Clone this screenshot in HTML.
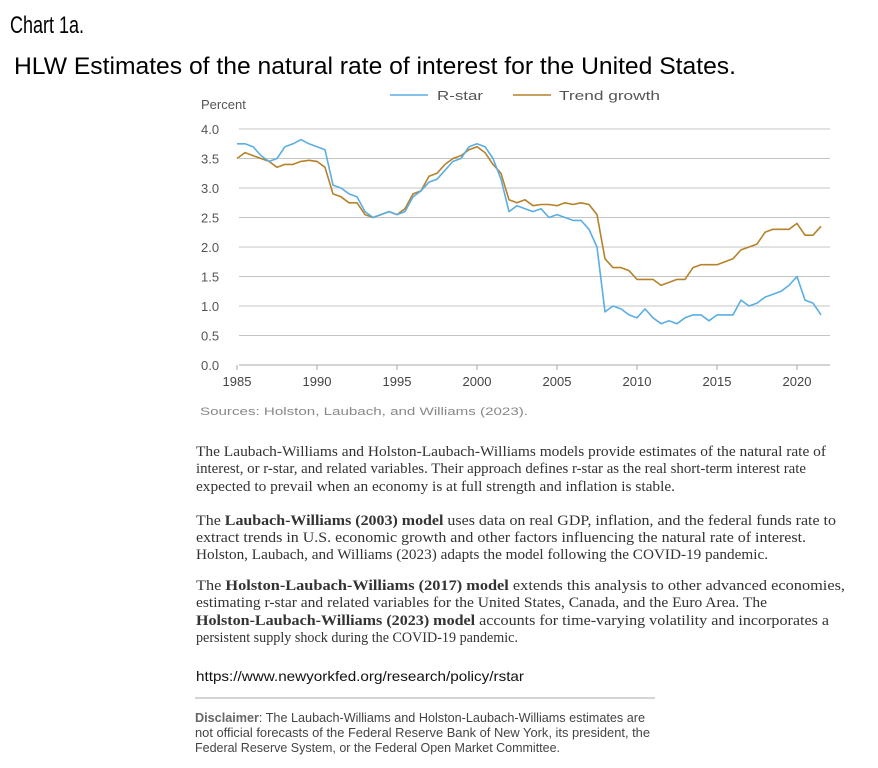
<!DOCTYPE html>
<html><head><meta charset="utf-8"><style>
html,body{margin:0;padding:0;background:#fff;}
svg{display:block;}
</style></head><body>
<svg id="chart" width="878" height="768" viewBox="0 0 878 768" xmlns="http://www.w3.org/2000/svg">
<text x="10" y="33" font-family="Liberation Sans, sans-serif" font-size="24" textLength="74" lengthAdjust="spacingAndGlyphs">Chart 1a.</text>
<text x="14" y="74" font-family="Liberation Sans, sans-serif" font-size="24" textLength="722" lengthAdjust="spacingAndGlyphs">HLW Estimates of the natural rate of interest for the United States.</text>

<g>
<line x1="390" y1="95" x2="428" y2="95" stroke="#5aaee3" stroke-width="1.5"/>
<text x="437" y="100" font-family="Liberation Sans, sans-serif" font-size="13" fill="#555" textLength="46" lengthAdjust="spacingAndGlyphs">R-star</text>
<line x1="513" y1="95" x2="551" y2="95" stroke="#b5822a" stroke-width="1.5"/>
<text x="559" y="100" font-family="Liberation Sans, sans-serif" font-size="13" fill="#555" textLength="101" lengthAdjust="spacingAndGlyphs">Trend growth</text>
</g>
<text x="201" y="109" font-family="Liberation Sans, sans-serif" font-size="13" fill="#555">Percent</text>
<g id="grid"></g>
<g id="series"></g>
<text x="200" y="415" font-family="Liberation Sans, sans-serif" font-size="11" fill="#888" textLength="328" lengthAdjust="spacingAndGlyphs">Sources: Holston, Laubach, and Williams (2023).</text>

<g font-family="Liberation Serif, serif" font-size="14.5" fill="#333">
<text x="196" y="456" textLength="630" lengthAdjust="spacingAndGlyphs">The Laubach-Williams and Holston-Laubach-Williams models provide estimates of the natural rate of</text>
<text x="196" y="473" textLength="610" lengthAdjust="spacingAndGlyphs">interest, or r-star, and related variables. Their approach defines r-star as the real short-term interest rate</text>
<text x="196" y="491" textLength="479" lengthAdjust="spacingAndGlyphs">expected to prevail when an economy is at full strength and inflation is stable.</text>
<text x="196" y="525" textLength="640" lengthAdjust="spacingAndGlyphs">The <tspan font-weight="bold">Laubach-Williams (2003) model</tspan> uses data on real GDP, inflation, and the federal funds rate to</text>
<text x="196" y="542" textLength="610" lengthAdjust="spacingAndGlyphs">extract trends in U.S. economic growth and other factors influencing the natural rate of interest.</text>
<text x="196" y="559" textLength="572" lengthAdjust="spacingAndGlyphs">Holston, Laubach, and Williams (2023) adapts the model following the COVID-19 pandemic.</text>
<text x="196" y="590" textLength="649" lengthAdjust="spacingAndGlyphs">The <tspan font-weight="bold">Holston-Laubach-Williams (2017) model</tspan> extends this analysis to other advanced economies,</text>
<text x="196" y="607" textLength="571" lengthAdjust="spacingAndGlyphs">estimating r-star and related variables for the United States, Canada, and the Euro Area. The</text>
<text x="196" y="625" textLength="633" lengthAdjust="spacingAndGlyphs"><tspan font-weight="bold">Holston-Laubach-Williams (2023) model</tspan> accounts for time-varying volatility and incorporates a</text>
<text x="196" y="642" textLength="322" lengthAdjust="spacingAndGlyphs">persistent supply shock during the COVID-19 pandemic.</text>
</g>
<text x="196" y="681" font-family="Liberation Sans, sans-serif" font-size="14" fill="#111" textLength="328" lengthAdjust="spacingAndGlyphs">https://www.newyorkfed.org/research/policy/rstar</text>
<line x1="195" y1="698" x2="655" y2="698" stroke="#aaa" stroke-width="1"/>
<g font-family="Liberation Sans Narrow, Liberation Sans, sans-serif" font-size="12.5" fill="#444">
<text x="195" y="722" textLength="450" lengthAdjust="spacingAndGlyphs"><tspan font-weight="bold" fill="#666">Disclaimer</tspan>: The Laubach-Williams and Holston-Laubach-Williams estimates are</text>
<text x="195" y="737" textLength="455" lengthAdjust="spacingAndGlyphs">not official forecasts of the Federal Reserve Bank of New York, its president, the</text>
<text x="195" y="752" textLength="365" lengthAdjust="spacingAndGlyphs">Federal Reserve System, or the Federal Open Market Committee.</text>
</g>
</svg>
<script>
const years = [1985,1985.5,1986,1986.5,1987,1987.5,1988,1988.5,1989,1989.5,1990,1990.5,1991,1991.5,1992,1992.5,1993,1993.5,1994,1994.5,1995,1995.5,1996,1996.5,1997,1997.5,1998,1998.5,1999,1999.5,2000,2000.5,2001,2001.5,2002,2002.5,2003,2003.5,2004,2004.5,2005,2005.5,2006,2006.5,2007,2007.5,2008,2008.5,2009,2009.5,2010,2010.5,2011,2011.5,2012,2012.5,2013,2013.5,2014,2014.5,2015,2015.5,2016,2016.5,2017,2017.5,2018,2018.5,2019,2019.5,2020,2020.5,2021,2021.5];
const rstar = [3.75,3.75,3.7,3.55,3.45,3.5,3.7,3.75,3.82,3.75,3.7,3.65,3.05,3.0,2.9,2.85,2.6,2.5,2.55,2.6,2.55,2.6,2.85,2.95,3.1,3.15,3.3,3.45,3.5,3.7,3.75,3.7,3.5,3.15,2.6,2.7,2.65,2.6,2.65,2.5,2.55,2.5,2.45,2.45,2.3,2.0,0.9,1.0,0.95,0.85,0.8,0.95,0.8,0.7,0.75,0.7,0.8,0.85,0.85,0.75,0.85,0.85,0.85,1.1,1.0,1.05,1.15,1.2,1.25,1.35,1.5,1.1,1.05,0.85];
const trend = [3.5,3.6,3.55,3.5,3.45,3.35,3.4,3.4,3.45,3.47,3.45,3.35,2.9,2.85,2.75,2.75,2.55,2.5,2.55,2.6,2.55,2.65,2.9,2.95,3.2,3.25,3.4,3.5,3.55,3.65,3.7,3.6,3.4,3.25,2.8,2.75,2.8,2.7,2.72,2.72,2.7,2.75,2.72,2.75,2.72,2.55,1.8,1.65,1.65,1.6,1.45,1.45,1.45,1.35,1.4,1.45,1.45,1.65,1.7,1.7,1.7,1.75,1.8,1.95,2.0,2.05,2.25,2.3,2.3,2.3,2.4,2.2,2.2,2.35];
const yTicks = [0,0.5,1,1.5,2,2.5,3,3.5,4];
const yTickLabels = ["0.0","0.5","1.0","1.5","2.0","2.5","3.0","3.5","4.0"];
const xTicks = [1985,1990,1995,2000,2005,2010,2015,2020];

const NS = "http://www.w3.org/2000/svg";
function xs(v){ return 237 + (v - 1985) * 16; }
function ys(v){ return 365 - v * 59; }
const grid = document.getElementById('grid');
const series = document.getElementById('series');
yTicks.forEach((t,i)=>{
  const l = document.createElementNS(NS,'line');
  l.setAttribute('x1',239); l.setAttribute('x2',830);
  l.setAttribute('y1',ys(t)); l.setAttribute('y2',ys(t));
  l.setAttribute('stroke', t===0 ? '#aaa' : '#c4c4c4'); l.setAttribute('stroke-width',1);
  
  
  grid.appendChild(l);
  const tx = document.createElementNS(NS,'text');
  tx.setAttribute('x',201); tx.setAttribute('y',ys(t)+5);
  tx.setAttribute('font-family','Liberation Sans, sans-serif'); tx.setAttribute('font-size',13); tx.setAttribute('fill','#555');
  tx.textContent = yTickLabels[i];
  
  
  grid.appendChild(tx);
});
xTicks.forEach(t=>{
  const l = document.createElementNS(NS,'line');
  l.setAttribute('x1',xs(t)); l.setAttribute('x2',xs(t));
  l.setAttribute('y1',365); l.setAttribute('y2',370);
  l.setAttribute('stroke','#aaa');
  
  
  grid.appendChild(l);
  const tx = document.createElementNS(NS,'text');
  tx.setAttribute('x',xs(t)); tx.setAttribute('y',386); tx.setAttribute('text-anchor','middle');
  tx.setAttribute('font-family','Liberation Sans, sans-serif'); tx.setAttribute('font-size',13); tx.setAttribute('fill','#444');
  tx.textContent = t;
  
  
  grid.appendChild(tx);
});
function drawLine(vals, color, name){
  const p = document.createElementNS(NS,'polyline');
  p.setAttribute('points', vals.map((v,i)=>xs(years[i]).toFixed(1)+','+ys(v).toFixed(1)).join(' '));
  p.setAttribute('fill','none'); p.setAttribute('stroke',color); p.setAttribute('stroke-width',1.6);
  p.setAttribute('stroke-linejoin','round');
  
  
  series.appendChild(p);
}
drawLine(trend,'#b5822a','trend-growth-line');
drawLine(rstar,'#5aaee3','rstar-line');
</script>
</body></html>
